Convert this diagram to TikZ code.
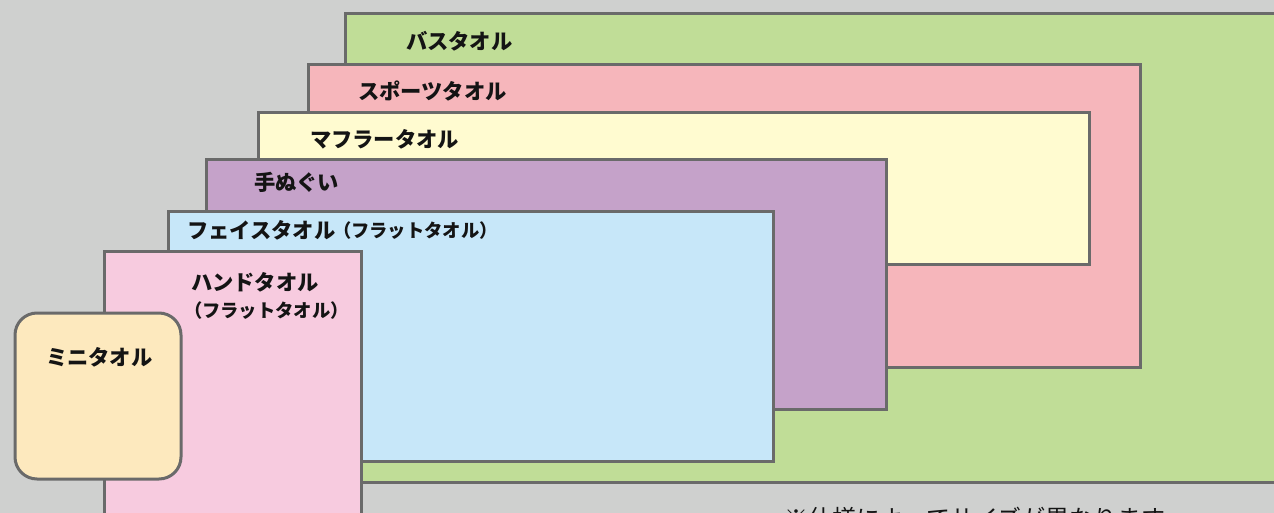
\documentclass[tikz,border=0pt]{standalone}
\usepackage{fontspec}
\newfontfamily\jp{Noto Sans CJK JP}
\definecolor{bgc}{HTML}{CFD0CF}
\definecolor{cbath}{HTML}{C0DD97}
\definecolor{csport}{HTML}{F6B6BB}
\definecolor{cmuff}{HTML}{FFFBD0}
\definecolor{cten}{HTML}{C5A2C9}
\definecolor{cface}{HTML}{C7E7F9}
\definecolor{chand}{HTML}{F7CBDF}
\definecolor{cmini}{HTML}{FDE9BE}
\definecolor{cedge}{HTML}{6A6A6A}
\definecolor{ctext}{HTML}{141414}
\tikzset{
  towel/.style={draw=cedge, line width=3pt, anchor=north west, inner sep=0pt, outer sep=0pt},
  lbl/.style={anchor=base west, inner sep=0pt, outer sep=0pt, text=ctext, font=\jp\bfseries\fontsize{21.3}{21.3}\selectfont},
  sublbl/.style={anchor=base west, inner sep=0pt, outer sep=0pt, text=ctext, font=\jp\bfseries\fontsize{18.3}{18.3}\selectfont},
  note/.style={anchor=base west, inner sep=0pt, outer sep=0pt, text=ctext, font=\jp\fontsize{24}{24}\selectfont}
}
\begin{document}
\begin{tikzpicture}[x=1pt,y=-1pt]
\useasboundingbox (0,0) rectangle (1274,513);
\clip (0,0) rectangle (1274,513);
\fill[bgc] (0,0) rectangle (1274,513);
% towels
\node[towel, fill=cbath, minimum width=960pt, minimum height=468pt] (bath) at (345,14) {};
\node[towel, fill=csport, minimum width=832pt, minimum height=302pt] (sport) at (308,65) {};
\node[towel, fill=cmuff, minimum width=831pt, minimum height=151pt] (muff) at (258,113) {};
\node[towel, fill=cten, minimum width=680pt, minimum height=249pt] (ten) at (206,160) {};
\node[towel, fill=cface, minimum width=605pt, minimum height=249pt] (face) at (168,212) {};
\node[towel, fill=chand, minimum width=257pt, minimum height=300pt] (hand) at (104,251) {};
\node[towel, fill=cmini, minimum width=166pt, minimum height=166pt, rounded corners=22pt] (mini) at (15,313) {};
% labels
\node[lbl] (tbath) at (406,50) {バスタオル};
\node[lbl] (tsport) at (358,99.5) {スポーツタオル};
\node[lbl] (tmuff) at (310,147.5) {マフラータオル};
\node[lbl] (tten) at (254,190.5) {手ぬぐい};
\node[lbl] (tface) at (187,238.5) {フェイスタオル};
\node[sublbl] (tface2) at (333,237.5) {（フラットタオル）};
\node[sublbl] (thand2) at (184,317.5) {（フラットタオル）};
\node[lbl] (thand) at (191,290.5) {ハンドタオル};
\node[lbl] (tmini) at (46,365.5) {ミニタオル};
\node[note] (tnote) at (784,527) {※仕様によってサイズが異なります};
\end{tikzpicture}
\end{document}
